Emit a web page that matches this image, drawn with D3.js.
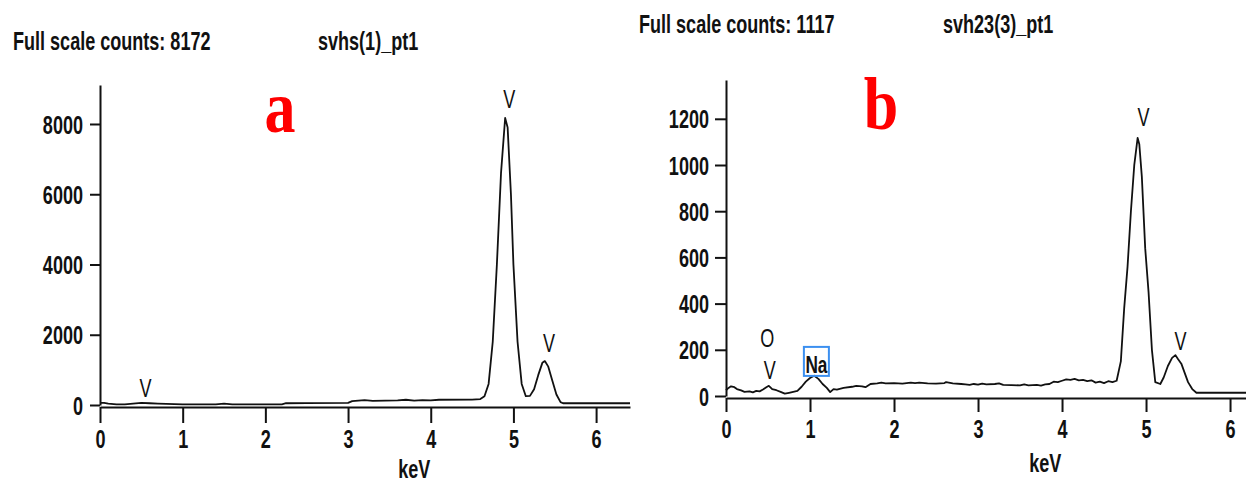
<!DOCTYPE html>
<html>
<head>
<meta charset="utf-8">
<script src="https://cdn.jsdelivr.net/npm/d3@7/dist/d3.min.js"></script>
<style>
  html, body { margin: 0; padding: 0; background: #fff; }
  svg { display: block; }
</style>
</head>
<body>
<svg id="chart" width="1246" height="489"></svg>
<script>
// ---------- DATA ----------
const xTicks = [0, 1, 2, 3, 4, 5, 6];
const yTicksA = [0, 2000, 4000, 6000, 8000];
const yTicksB = [0, 200, 400, 600, 800, 1000, 1200];

const headerA = ["Full scale counts: 8172", "svhs(1)_pt1"];
const headerB = ["Full scale counts: 1117", "svh23(3)_pt1"];

// spectrum a : [keV, counts]
const spectrumA = [
  [0.00, 60], [0.05, 60], [0.10, 40], [0.20, 20], [0.30, 20], [0.40, 40], [0.50, 60],
  [0.60, 50], [0.70, 40], [0.80, 30], [1.00, 20], [1.20, 15], [1.40, 20], [1.50, 40],
  [1.60, 15], [2.00, 15], [2.20, 20], [2.25, 50], [2.50, 55], [3.00, 60], [3.05, 110],
  [3.20, 140], [3.30, 120], [3.60, 130], [3.70, 150], [3.80, 125], [3.90, 140],
  [4.00, 130], [4.10, 150], [4.50, 155], [4.60, 170], [4.65, 250], [4.70, 600],
  [4.75, 1800], [4.80, 4000], [4.85, 6600], [4.90, 8172], [4.93, 7900], [4.97, 6000],
  [5.00, 4000], [5.05, 1800], [5.10, 600], [5.15, 250], [5.20, 260], [5.25, 450],
  [5.30, 850], [5.35, 1200], [5.38, 1250], [5.42, 1100], [5.47, 700], [5.52, 300],
  [5.57, 80], [5.60, 50], [6.41, 50]
];

// spectrum b : [keV, counts]
const spectrumB = [
  [0.00, 25], [0.03, 35], [0.06, 42], [0.10, 38], [0.13, 30], [0.18, 24], [0.22, 18],
  [0.28, 20], [0.32, 16], [0.36, 22], [0.40, 20], [0.44, 28], [0.48, 38], [0.51, 44],
  [0.55, 30], [0.60, 25], [0.65, 18], [0.70, 10], [0.75, 14], [0.80, 18], [0.85, 22],
  [0.90, 40], [0.95, 62], [1.00, 78], [1.05, 88], [1.10, 74], [1.15, 52], [1.20, 35],
  [1.24, 17], [1.28, 30], [1.32, 28], [1.40, 35], [1.50, 40], [1.55, 44], [1.62, 42],
  [1.66, 38], [1.72, 52], [1.80, 55], [1.85, 58], [1.90, 55], [2.00, 56], [2.10, 54],
  [2.20, 58], [2.25, 56], [2.30, 58], [2.40, 55], [2.50, 54], [2.60, 56], [2.62, 60],
  [2.70, 55], [2.80, 52], [2.85, 50], [2.90, 48], [2.95, 52], [3.00, 49], [3.05, 54],
  [3.10, 50], [3.20, 52], [3.25, 55], [3.30, 48], [3.40, 47], [3.50, 46], [3.55, 50],
  [3.60, 46], [3.70, 48], [3.75, 45], [3.80, 50], [3.85, 52], [3.90, 62], [3.95, 60],
  [4.00, 66], [4.05, 72], [4.10, 70], [4.15, 74], [4.20, 68], [4.25, 70], [4.30, 64],
  [4.35, 68], [4.40, 58], [4.45, 62], [4.50, 56], [4.55, 64], [4.60, 60], [4.65, 66],
  [4.70, 150], [4.74, 380], [4.78, 560], [4.82, 800], [4.86, 1000], [4.90, 1117],
  [4.92, 1090], [4.95, 950], [4.99, 640], [5.03, 450], [5.07, 200], [5.11, 60],
  [5.17, 52], [5.21, 80], [5.26, 130], [5.31, 165], [5.35, 177], [5.38, 160],
  [5.42, 140], [5.46, 100], [5.50, 60], [5.55, 30], [5.60, 14], [6.19, 14]
];

// peak labels: [text, keV, counts]
const peaksA = [["V", 0.55, 230], ["V", 4.95, 8450], ["V", 5.43, 1500]];
const peaksB = [["O", 0.49, 210], ["V", 0.52, 75], ["V", 4.97, 1170], ["V", 5.41, 200]];
const boxedB = [["Na", 1.07, 100]];

const panelLetters = ["a", "b"];

// ---------- DRAW ----------
const svg = d3.select("#chart");
const FONT = "'Liberation Sans', Arial, sans-serif";
const SX = 0.82, SY = 1.15;

function stretchText(sel, sx, sy) {
  sel.each(function () {
    const t = d3.select(this);
    const x = +t.attr("x") || 0;
    const y = +t.attr("y") || 0;
    t.attr("x", 0).attr("y", 0)
     .attr("transform", `translate(${x},${y}) scale(${sx},${sy})`);
  });
}

function panel(cfg) {
  const x = d3.scaleLinear().domain(cfg.xDomain).range(cfg.xRange);
  const y = d3.scaleLinear().domain(cfg.yDomain).range(cfg.yRange);
  const g = svg.append("g");

  // x axis
  const xa = g.append("g")
    .attr("transform", `translate(0,${cfg.xAxisY})`)
    .call(d3.axisBottom(x).tickValues(xTicks).tickFormat(d3.format("d"))
      .tickSize(cfg.xTickLen).tickSizeOuter(0));
  xa.select(".domain").attr("stroke", "#111").attr("stroke-width", 2);
  xa.selectAll(".tick line").attr("stroke", "#111").attr("stroke-width", 2);
  xa.selectAll(".tick text")
    .attr("fill", "#111").attr("font-family", FONT).attr("font-size", 22)
    .attr("font-weight", "bold").attr("dy", 0)
    .attr("y", cfg.xLabelBase);
  stretchText(xa.selectAll(".tick text"), SX, SY);

  // y axis
  const ya = g.append("g")
    .attr("transform", `translate(${cfg.xRange[0]},0)`)
    .call(d3.axisLeft(y).tickValues(cfg.yTicks).tickFormat(d3.format("d"))
      .tickSize(cfg.yTickLen).tickSizeOuter(0));
  ya.select(".domain").attr("stroke", "#111").attr("stroke-width", 2);
  ya.selectAll(".tick line").attr("stroke", "#111").attr("stroke-width", 2);
  ya.selectAll(".tick text")
    .attr("fill", "#111").attr("font-family", FONT).attr("font-size", 22)
    .attr("font-weight", "bold").attr("x", -17).attr("dy", "0.36em");
  stretchText(ya.selectAll(".tick text"), SX, SY);

  // spectrum
  const line = d3.line().x(d => x(d[0])).y(d => y(d[1]));
  g.append("path").datum(cfg.data)
    .attr("d", line).attr("fill", "none")
    .attr("stroke", "#111").attr("stroke-width", 1.8)
    .attr("stroke-linejoin", "round");

  // keV label
  const kev = g.append("text").text("keV")
    .attr("x", x(cfg.kevAt)).attr("y", cfg.kevBase)
    .attr("text-anchor", "middle").attr("font-family", FONT)
    .attr("font-size", 22).attr("font-weight", "bold").attr("fill", "#111");
  stretchText(kev, SX, SY);

  // headers
  cfg.header.forEach((h, i) => {
    const t = g.append("text").text(h)
      .attr("x", cfg.headerX[i]).attr("y", cfg.headerBase)
      .attr("font-family", FONT).attr("font-size", 22).attr("font-weight", "bold").attr("fill", "#111");
    stretchText(t, SX, SY);
  });

  // peak labels
  const pl = g.selectAll("text.peak").data(cfg.peaks).enter().append("text")
    .attr("class", "peak").text(d => d[0])
    .attr("x", d => x(d[1])).attr("y", d => y(d[2]))
    .attr("text-anchor", "middle").attr("font-family", FONT)
    .attr("font-size", 22).attr("fill", "#111");
  stretchText(pl, SX, SY);

  // boxed labels
  (cfg.boxed || []).forEach(b => {
    const bx = x(b[1]), by = y(b[2]);
    g.append("rect").attr("x", bx - 12).attr("y", by - 26)
      .attr("width", 25).attr("height", 29)
      .attr("fill", "none").attr("stroke", "#3b8ff0").attr("stroke-width", 2);
    const t = g.append("text").text(b[0]).attr("x", bx + 0.5).attr("y", by)
      .attr("text-anchor", "middle").attr("font-family", FONT)
      .attr("font-size", 21).attr("font-weight", "bold").attr("fill", "#111");
    stretchText(t, SX, SY);
  });

  // panel letter
  const L = g.append("text").text(cfg.letter)
    .attr("x", cfg.letterPos[0]).attr("y", cfg.letterPos[1])
    .attr("text-anchor", "middle")
    .attr("font-family", "'Liberation Serif', 'Times New Roman', serif")
    .attr("font-weight", "bold").attr("font-size", 62).attr("fill", "#ff0000");
  stretchText(L, 1, 1.2);
}

panel({
  xDomain: [0, 6.41], xRange: [100, 630],
  yDomain: [0, 9110], yRange: [405, 85],
  yTicks: yTicksA, xAxisY: 407, xTickLen: 16, yTickLen: 10,
  xLabelBase: 41, data: spectrumA, kevAt: 3.8, kevBase: 478,
  header: headerA, headerX: [13, 318], headerBase: 50,
  peaks: peaksA, letter: panelLetters[0], letterPos: [280, 132]
});

panel({
  xDomain: [0, 6.19], xRange: [726, 1246],
  yDomain: [0, 1368], yRange: [396, 80],
  yTicks: yTicksB, xAxisY: 398, xTickLen: 14, yTickLen: 11,
  xLabelBase: 40, data: spectrumB, kevAt: 3.8, kevBase: 472,
  header: headerB, headerX: [639, 943], headerBase: 33,
  peaks: peaksB, boxed: boxedB, letter: panelLetters[1], letterPos: [881, 129]
});
</script>
</body>
</html>
